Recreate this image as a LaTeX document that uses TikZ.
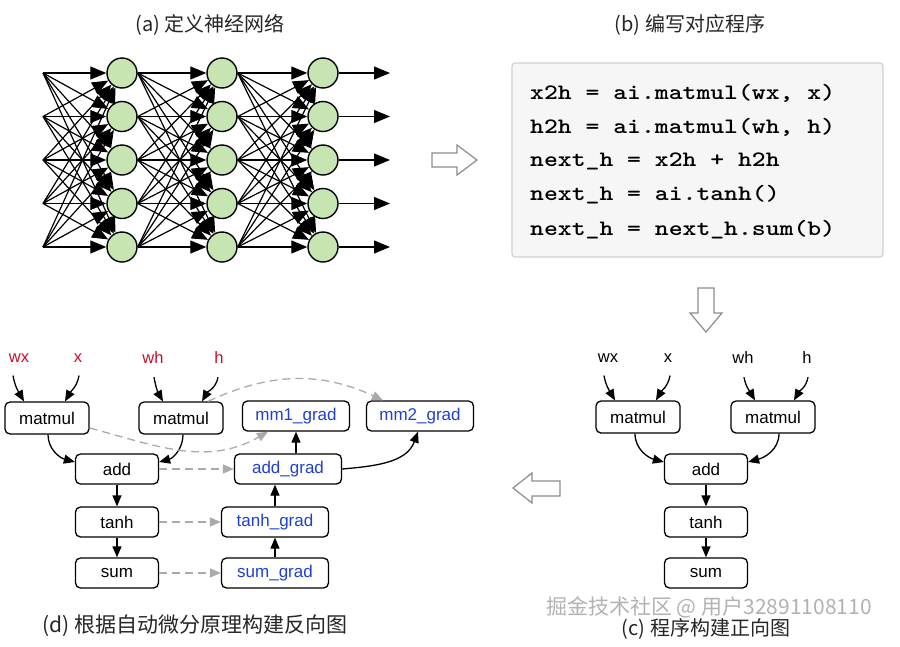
\documentclass[tikz,border=0pt]{standalone}
\usepackage{fontspec}
\setmainfont{Liberation Sans}
\newfontfamily\cjkfont{Noto Sans CJK SC}
\newfontfamily\codefont{lmmonolt10-bold.otf}[FakeStretch=1.2]
\usepackage{tikz}
\usetikzlibrary{arrows.meta,positioning,calc}
\usepackage{xcolor}

\definecolor{nnfill}{HTML}{C6E5B3}
\definecolor{gradblue}{HTML}{1F3FD6}
\definecolor{inred}{HTML}{C8102E}
\definecolor{dashgray}{HTML}{AAAAAA}
\definecolor{codebg}{HTML}{F6F6F6}
\definecolor{codeline}{HTML}{D2D2D2}
\definecolor{hollowgray}{HTML}{8C8C8C}

\begin{document}
\begin{tikzpicture}[
    x=1pt, y=-1pt,
    neuron/.style={circle, draw, line width=1.4pt, fill=nnfill, minimum size=30pt, inner sep=0pt},
    nnedge/.style={-{Triangle[length=16pt,width=13pt]}, line width=1.2pt},
    op/.style={rectangle, draw, line width=1.3pt, rounded corners=5pt, minimum width=83pt, minimum height=30pt, inner sep=0pt, font=\fontsize{17}{19}\selectfont},
    mmbox/.style={op, minimum width=84pt, minimum height=32pt},
    gradbox/.style={op, text=gradblue, minimum width=107pt},
    invar/.style={inner sep=0pt, font=\fontsize{16.5}{18}\selectfont},
    flow/.style={-{Triangle[length=11pt,width=9pt]}, line width=1.3pt},
    back/.style={-{Triangle[length=11pt,width=9pt]}, line width=1.3pt, draw=dashgray, dash pattern=on 8pt off 5pt},
    codeln/.style={anchor=west, inner sep=0pt, font=\codefont\fontsize{22}{26}\selectfont},
    title/.style={text=black!85, font=\cjkfont\fontsize{20}{24}\selectfont},
    hollow/.style={draw=hollowgray, line width=1.2pt, fill=white}
]
    \fill[white] (0,0) rectangle (900,646);
    \useasboundingbox (0,0) rectangle (900,646);

    % --- (a) NEURAL NET ---
    \node[title] (titleA) at (210,25) {(a) 定义神经网络};
    \foreach \i in {1,...,5} {
        \coordinate (in\i) at (43, 73+43.5*\i-43.5);
        \coordinate (out\i) at (390, 73+43.5*\i-43.5);
        \node[neuron] (a\i) at (122, 73+43.5*\i-43.5) {};
        \node[neuron] (b\i) at (222, 73+43.5*\i-43.5) {};
        \node[neuron] (c\i) at (323, 73+43.5*\i-43.5) {};
    }
    \foreach \i in {1,...,5} {
        \foreach \j in {1,...,5} {
            \draw[nnedge] (in\i) -- (a\j);
            \draw[nnedge] (a\i.east) -- (b\j);
            \draw[nnedge] (b\i.east) -- (c\j);
        }
        \draw[nnedge] (c\i) -- (out\i);
    }

    % --- (b) CODE ---
    \node[title] (titleB) at (690,25) {(b) 编写对应程序};
    \node[draw=codeline, fill=codebg, line width=1.2pt, rounded corners=3pt, minimum width=371pt, minimum height=194pt] (codebox) at (697.5,160) {};
    \node[codeln] (ln1) at (530,93) {x2h = ai.matmul(wx, x)};
    \node[codeln] (ln2) at (530,127) {h2h = ai.matmul(wh, h)};
    \node[codeln] (ln3) at (530,161) {next\_h = x2h + h2h};
    \node[codeln] (ln4) at (530,195) {next\_h = ai.tanh()};
    \node[codeln] (ln5) at (530,230) {next\_h = next\_h.sum(b)};

    % hollow arrows
    \draw[hollow] (432,153) -- (457,153) -- (457,145) -- (477,160) -- (457,175) -- (457,167) -- (432,167) -- cycle;
    \draw[hollow] (698,288) -- (714,288) -- (714,313) -- (722,313) -- (706,332) -- (690,313) -- (698,313) -- cycle;
    \draw[hollow] (560,481) -- (532,481) -- (532,473) -- (513,488) -- (532,503) -- (532,496) -- (560,496) -- cycle;

    % --- (c) FORWARD GRAPH ---
    \node[invar] (wxC) at (608,358) {wx};
    \node[invar] (xC) at (668,358) {x};
    \node[invar] (whC) at (743,358) {wh};
    \node[invar] (hC) at (807,358) {h};
    \node[mmbox] (mmC) at (638,417) {matmul};
    \node[mmbox] (mmE) at (773,417) {matmul};
    \node[op] (addC) at (706,469) {add};
    \node[op] (tanhC) at (706,522) {tanh};
    \node[op] (sumC) at (706,573) {sum};

    \draw[flow] ([xshift=-4pt,yshift=-13pt]wxC.south) to[out=-80,in=120] ([xshift=-23pt]mmC.north);
    \draw[flow] ([xshift=2pt,yshift=-13pt]xC.south) to[out=-100,in=60] ([xshift=18pt]mmC.north);
    \draw[flow] ([xshift=1pt,yshift=-13pt]whC.south) to[out=-80,in=120] ([xshift=-18pt]mmE.north);
    \draw[flow] ([xshift=1pt,yshift=-13pt]hC.south) to[out=-100,in=60] ([xshift=21pt]mmE.north);
    \draw[flow] ([xshift=-3pt]mmC.south) to[out=-90,in=165] ([yshift=7pt]addC.west);
    \draw[flow] ([xshift=6pt]mmE.south) to[out=-90,in=15] ([yshift=7pt]addC.east);
    \draw[flow] (addC) -- (tanhC);
    \draw[flow] (tanhC) -- (sumC);
    \node[text=black!30, font=\cjkfont\fontsize{21}{24}\selectfont] (wmark) at (709,607) {掘金技术社区 @ 用户32891108110};
    \node[title] (titleC) at (706,629) {(c) 程序构建正向图};

    % --- (d) BACKWARD GRAPH ---
    \node[invar, text=inred] (wxD) at (19,358) {wx};
    \node[invar, text=inred] (xD) at (78,358) {x};
    \node[invar, text=inred] (whD) at (153,358) {wh};
    \node[invar, text=inred] (hD) at (219,358) {h};
    \node[mmbox] (mmA) at (47,418) {matmul};
    \node[mmbox] (mmB) at (181,418) {matmul};
    \node[op] (addD) at (117,469) {add};
    \node[op] (tanhD) at (117,522) {tanh};
    \node[op] (sumD) at (117,573) {sum};
    \node[gradbox] (mmAgrad) at (296,416) {mm1\_grad};
    \node[gradbox] (mmBgrad) at (420,416) {mm2\_grad};
    \node[gradbox] (addgrad) at (288,469) {add\_grad};
    \node[gradbox] (tanhgrad) at (275,522) {tanh\_grad};
    \node[gradbox] (sumgrad) at (275,573) {sum\_grad};

    \draw[flow] ([xshift=-6pt,yshift=-13pt]wxD.south) to[out=-80,in=120] ([xshift=-23pt]mmA.north);
    \draw[flow] ([xshift=1pt,yshift=-13pt]xD.south) to[out=-100,in=60] ([xshift=18pt]mmA.north);
    \draw[flow] ([xshift=1pt,yshift=-13pt]whD.south) to[out=-80,in=120] ([xshift=-18pt]mmB.north);
    \draw[flow] ([xshift=-1pt,yshift=-13pt]hD.south) to[out=-100,in=60] ([xshift=21pt]mmB.north);
    \draw[flow] ([xshift=1pt]mmA.south) to[out=-90,in=165] ([yshift=7pt]addD.west);
    \draw[flow] ([xshift=2pt]mmB.south) to[out=-90,in=15] ([yshift=7pt]addD.east);
    \draw[flow] (addD) -- (tanhD);
    \draw[flow] (tanhD) -- (sumD);

    \draw[flow] (sumgrad) -- (tanhgrad);
    \draw[flow] (tanhgrad.north) -- (tanhgrad.north |- addgrad.south);
    \draw[flow] (mmAgrad.south |- addgrad.north) -- (mmAgrad.south);
    \draw[flow] (addgrad.east) to[out=5,in=-110] ([xshift=-2pt]mmBgrad.south);

    \draw[back] (addD) -- (addgrad);
    \draw[back] (tanhD) -- (tanhgrad);
    \draw[back] (sumD) -- (sumgrad);
    \draw[back] ([yshift=-10pt]mmA.east) to[out=-15,in=210] ([xshift=-28pt]mmAgrad.south);
    \draw[back] ([xshift=27pt]mmB.north) to[out=25,in=155] ([xshift=-37pt]mmBgrad.north);
    \node[title, font=\cjkfont\fontsize{21}{24}\selectfont] (titleD) at (195,626) {(d) 根据自动微分原理构建反向图};

\end{tikzpicture}
\end{document}
